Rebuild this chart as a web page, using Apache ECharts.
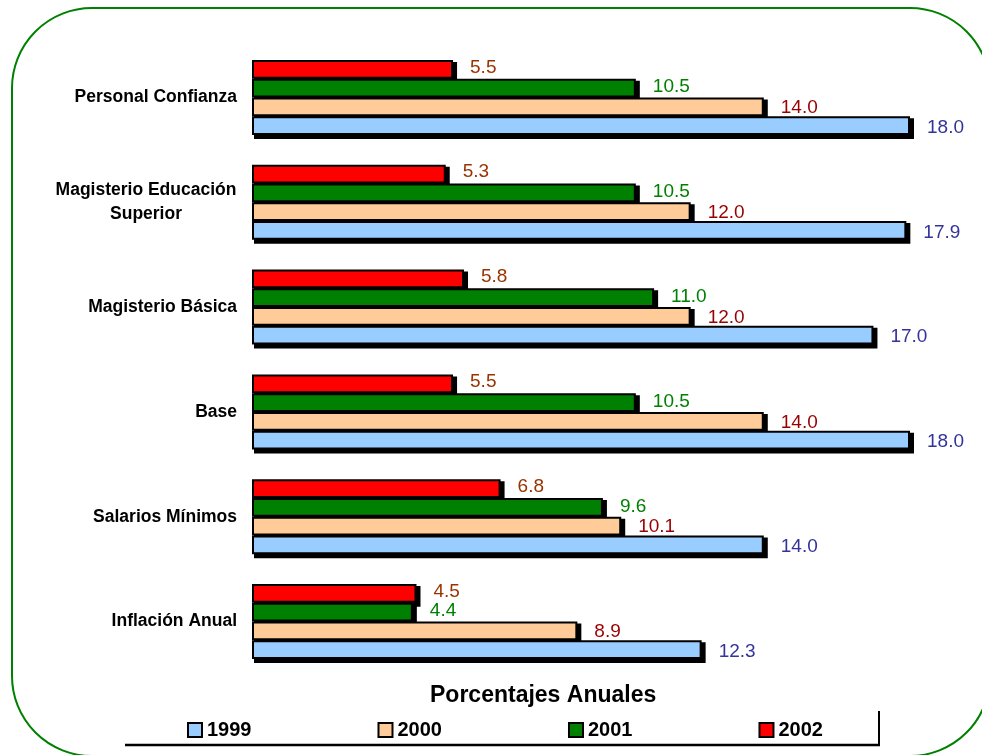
<!DOCTYPE html>
<html>
<head>
<meta charset="utf-8">
<script src="https://cdn.jsdelivr.net/npm/echarts@6/dist/echarts.min.js"></script>
<style>html,body{margin:0;padding:0;background:#fff;}#c{width:982px;height:755px;}</style>
</head>
<body>
<div id="c"></div>
<script>
var categories = ['Inflación Anual', 'Salarios Mínimos', 'Base', 'Magisterio Básica', 'Magisterio Educación\nSuperior', 'Personal Confianza'];
var seriesNames = ['1999', '2000', '2001', '2002'];
var v1999 = [12.3, 14.0, 18.0, 17.0, 17.9, 18.0];
var v2000 = [8.9, 10.1, 14.0, 12.0, 12.0, 14.0];
var v2001 = [4.4, 9.6, 10.5, 11.0, 10.5, 10.5];
var v2002 = [4.5, 6.8, 5.5, 5.8, 5.3, 5.5];
var titleText = 'Porcentajes Anuales';

var values = [v1999, v2000, v2001, v2002];
var fills = ['#99CCFF', '#FFCC99', '#008000', '#FF0000'];
var labelColors = ['#333399', '#990000', '#008000', '#993300'];
var labelDy = [2, 1, -1, -2];
var GAP = 0.284;
var FONT = '"Liberation Sans", Arial, sans-serif';

var chart = echarts.init(document.getElementById('c'), null, {renderer: 'canvas'});

// bar series (reverse order so 1999 sits at the bottom of each group)
var series = [];
for (var i = seriesNames.length - 1; i >= 0; i--) {
  (function (i) {
    series.push({
      name: seriesNames[i],
      type: 'bar',
      data: values[i],
      z: 5,
      barGap: '0%',
      barCategoryGap: (GAP * 100) + '%',
      itemStyle: {
        color: fills[i],
        borderColor: '#000',
        borderWidth: 2
      },
      label: {
        show: true,
        position: 'right',
        distance: 17,
        offset: [0, labelDy[i]],
        color: labelColors[i],
        fontFamily: FONT,
        fontSize: 19,
        formatter: function (p) { return p.value.toFixed(1); }
      },
      emphasis: {disabled: true},
      animation: false
    });
  })(i);
}

// drop shadows under the bars, positioned through the axes
var shadowData = categories.map(function (c, k) {
  return [k, v1999[k], v2000[k], v2001[k], v2002[k]];
});
series.push({
  type: 'custom',
  name: 'shadow',
  z: 2,
  silent: true,
  animation: false,
  data: shadowData,
  encode: {x: [1, 2, 3, 4], y: 0},
  renderItem: function (params, api) {
    var idx = api.value(0);
    var band = api.size([0, 1])[1];
    var cy = api.coord([0, idx])[1];
    var groupH = band * (1 - GAP);
    var barH = groupH / 4;
    var x0 = api.coord([0, idx])[0];
    var children = [];
    for (var s = 0; s < 4; s++) {
      var x1 = api.coord([api.value(s + 1), idx])[0];
      var yTop = cy + groupH / 2 - (s + 1) * barH;
      children.push({
        type: 'rect',
        shape: {x: x0 - 1 + 3, y: yTop - 1 + 3, width: x1 - x0 + 2, height: barH + 2},
        style: {fill: '#000'}
      });
    }
    return {type: 'group', children: children};
  }
});

chart.setOption({
  backgroundColor: '#fff',
  animation: false,
  title: {
    text: titleText,
    left: 425,
    top: 679,
    textStyle: {fontFamily: FONT, fontSize: 23, fontWeight: 'bold', color: '#000'}
  },
  legend: {
    data: seriesNames,
    left: 187,
    top: 720,
    padding: 0,
    itemWidth: 14,
    itemHeight: 14,
    itemGap: 126,
    icon: 'rect',
    itemStyle: {borderColor: '#000', borderWidth: 2},
    textStyle: {fontFamily: FONT, fontSize: 20, fontWeight: 'bold', color: '#000'},
    selectedMode: false
  },
  grid: {left: 252, top: 45, width: 658, height: 629},
  xAxis: {
    type: 'value',
    min: 0,
    max: 18,
    show: false
  },
  yAxis: {
    type: 'category',
    data: categories,
    axisLine: {show: false},
    axisTick: {show: false},
    splitLine: {show: false},
    axisLabel: {
      margin: 15,
      fontFamily: FONT,
      fontSize: 17.5,
      fontWeight: 'bold',
      color: '#000',
      lineHeight: 24,
      formatter: function (v) {
        if (v.indexOf('\n') >= 0) {
          return v.split('\n').map(function (s) { return '{c|' + s + '}'; }).join('\n');
        }
        return v;
      },
      rich: {
        c: {width: 182, align: 'center', fontFamily: FONT, fontSize: 17.5, fontWeight: 'bold', color: '#000', lineHeight: 24}
      }
    }
  },
  series: series,
  graphic: [
    {type: 'rect', shape: {x: 12, y: 8, width: 978, height: 748, r: 80}, style: {fill: 'none', stroke: '#008000', lineWidth: 2}, silent: true},
    {type: 'line', shape: {x1: 125, y1: 745, x2: 880, y2: 745}, style: {stroke: '#000', lineWidth: 2.5}, silent: true},
    {type: 'line', shape: {x1: 879, y1: 711, x2: 879, y2: 746}, style: {stroke: '#000', lineWidth: 2}, silent: true}
  ]
});
</script>
</body>
</html>
